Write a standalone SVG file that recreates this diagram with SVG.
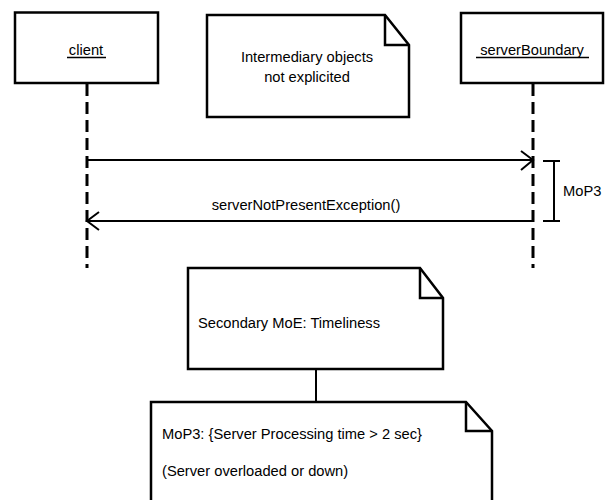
<svg xmlns="http://www.w3.org/2000/svg" width="605" height="500" viewBox="0 0 605 500">
  <style>
    text { font-family: "Liberation Sans", Arial, sans-serif; font-size: 14.7px; fill: #000; }
    .box { fill: #fff; stroke: #000; stroke-width: 2.5; }
    .note { fill: #fff; stroke: #000; stroke-width: 2.5; stroke-linejoin: miter; }
    .fold { fill: none; stroke: #000; stroke-width: 2.5; }
    .lifeline { stroke: #000; stroke-width: 3; stroke-dasharray: 12 6; fill: none; }
    .msg { stroke: #000; stroke-width: 2; fill: none; }
    .head { stroke: #000; stroke-width: 2; fill: none; }
    .ul { stroke: #000; stroke-width: 1.5; }
  </style>
  <rect width="605" height="500" fill="#fff"/>

  <!-- lifelines and messages -->
  <g id="connectors">
    <line class="lifeline" x1="87" y1="84" x2="87" y2="268"/>
    <line class="lifeline" x1="533" y1="84" x2="533" y2="268"/>

    <!-- call from client to serverBoundary -->
    <line class="msg" x1="87" y1="160" x2="532" y2="160"/>
    <polyline class="head" points="521,151 533,160 521,170"/>

    <!-- exception returned to client -->
    <line class="msg" x1="533" y1="221" x2="88" y2="221"/>
    <polyline class="head" points="99,212 87,221 99,230"/>
    <text x="306" y="210" text-anchor="middle">serverNotPresentException()</text>

    <!-- MoP3 interval bracket -->
    <line class="msg" x1="554" y1="161" x2="554" y2="221"/>
    <line class="msg" x1="543" y1="161" x2="560" y2="161"/>
    <line class="msg" x1="543" y1="221" x2="560" y2="221"/>
    <text x="563" y="196">MoP3</text>

    <!-- note anchor -->
    <line class="msg" x1="316" y1="369" x2="316" y2="402"/>
  </g>

  <g id="client">
    <rect class="box" x="15" y="12.5" width="143" height="70.5"/>
    <text x="86" y="55" text-anchor="middle">client</text>
    <line class="ul" x1="67" y1="57.5" x2="106" y2="57.5"/>
  </g>

  <g id="serverBoundary">
    <rect class="box" x="461" y="13" width="142" height="70"/>
    <text x="532" y="55" text-anchor="middle">serverBoundary</text>
    <line class="ul" x1="476" y1="57.5" x2="589" y2="57.5"/>
  </g>

  <g id="noteIntermediary">
    <path class="note" d="M207,15 H385 L409,45 V117 H207 Z"/>
    <path class="fold" d="M385,15 V45 H409"/>
    <text x="307" y="62" text-anchor="middle">Intermediary objects</text>
    <text x="307" y="82" text-anchor="middle">not explicited</text>
  </g>

  <g id="noteTimeliness">
    <path class="note" d="M188,268 H420 L443,298 V369 H188 Z"/>
    <path class="fold" d="M420,268 V298 H443"/>
    <text x="198" y="328">Secondary MoE: Timeliness</text>
  </g>

  <g id="noteMoP3">
    <path class="note" d="M151,402 H466 L492,431 V520 H151 Z"/>
    <path class="fold" d="M466,402 V431 H492"/>
    <text x="162" y="439">MoP3: {Server Processing time &gt; 2 sec}</text>
    <text x="162" y="476">(Server overloaded or down)</text>
  </g>
</svg>
